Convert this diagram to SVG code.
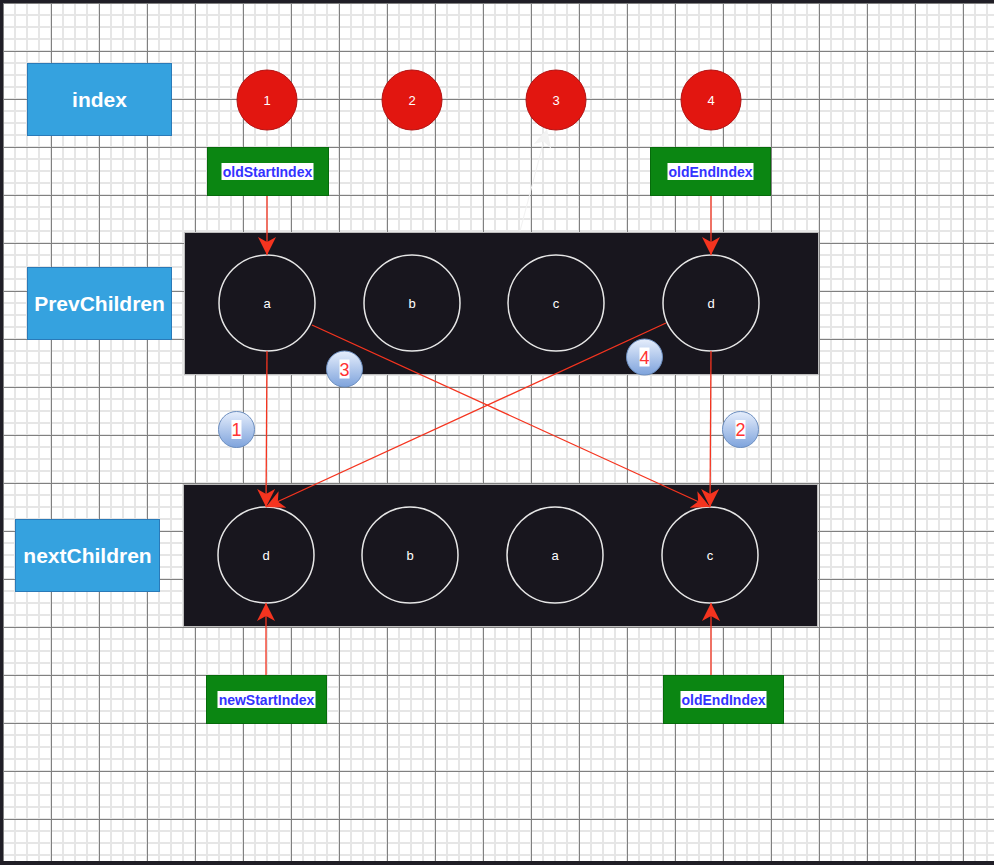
<svg xmlns="http://www.w3.org/2000/svg" width="994" height="865" viewBox="0 0 994 865">
<style>
.lbl{fill:#35a2df;stroke:#2a7ab8;stroke-width:1}
.lbltxt{font-family:"Liberation Sans",Arial,sans-serif;font-weight:bold;font-size:21px;fill:#fff;text-anchor:middle}
.idx{fill:#e21610;stroke:#b31212;stroke-width:1}
.idxtxt{font-family:"Liberation Sans",Arial,sans-serif;font-size:13px;fill:#fff;text-anchor:middle}
.ptr{fill:#0b8612;stroke:#066b0b;stroke-width:1}
.ptrbg{fill:#fff}
.ptrtxt{font-family:"Liberation Sans",Arial,sans-serif;font-weight:bold;font-size:14px;fill:#3333ff;text-anchor:middle}
.panel{fill:#18161e;stroke:#bdbdbd;stroke-width:1}
.node{fill:none;stroke:#e6e6e6;stroke-width:1.5}
.nodetxt{font-family:"Liberation Sans",Arial,sans-serif;font-size:13px;fill:#fff;text-anchor:middle}
.edge{fill:none;stroke:#f5341f;stroke-width:1.3}
.bub{fill:url(#bubg);stroke:#6c8ebf;stroke-width:1}
.bubtxt{font-family:"Liberation Sans",Arial,sans-serif;font-size:18px;fill:#ff3333;text-anchor:middle}
</style>
<defs>
<pattern id="grid" patternUnits="userSpaceOnUse" x="-3" y="-3" width="48" height="48">
<rect width="48" height="48" fill="#fff"/>
<path d="M5,0h2v48h-2z M17,0h2v48h-2z M29,0h2v48h-2z M41,0h2v48h-2z M0,5h48v2h-48z M0,17h48v2h-48z M0,29h48v2h-48z M0,41h48v2h-48z" fill="#e6e6e6"/>
<path d="M6,0h1v48h-1z M0,6h48v1h-48z" fill="#808080"/>
</pattern>
<linearGradient id="bubg" x1="0" y1="0" x2="0" y2="1">
<stop offset="0" stop-color="#e6eefc"/>
<stop offset="1" stop-color="#7ea3dc"/>
</linearGradient>
<marker id="arr" markerUnits="userSpaceOnUse" markerWidth="18" markerHeight="18" refX="18" refY="9" orient="auto">
<path d="M0,0 L18,9 L0,18 L5,9 Z" fill="#f5341f"/>
</marker>
<marker id="arrf" markerUnits="userSpaceOnUse" markerWidth="18" markerHeight="18" refX="18" refY="9" orient="auto">
<path d="M0,0 L18,9 L0,18 L5,9 Z" fill="#f2f2f2"/>
</marker>
</defs>
<rect x="0" y="0" width="994" height="865" fill="url(#grid)"/>
<rect x="0" y="0" width="994" height="3" fill="#201e26"/>
<rect x="0" y="0" width="3" height="865" fill="#201e26"/>
<rect x="0" y="861" width="994" height="4" fill="#201e26"/>

<g id="label-index"><rect class="lbl" x="27.5" y="63.5" width="144" height="72"/><text class="lbltxt" x="99.5" y="107">index</text></g>
<g id="label-prev"><rect class="lbl" x="27.5" y="267.5" width="144" height="72"/><text class="lbltxt" x="99.5" y="311">PrevChildren</text></g>
<g id="label-next"><rect class="lbl" x="15.5" y="519.5" width="144" height="72"/><text class="lbltxt" x="87.5" y="563">nextChildren</text></g>

<g id="idx1"><circle class="idx" cx="267" cy="100" r="30"/><text class="idxtxt" x="267" y="105">1</text></g>
<g id="idx2"><circle class="idx" cx="412" cy="100" r="30"/><text class="idxtxt" x="412" y="105">2</text></g>
<g id="idx3"><circle class="idx" cx="556" cy="100" r="30"/><text class="idxtxt" x="556" y="105">3</text></g>
<g id="idx4"><circle class="idx" cx="711" cy="100" r="30"/><text class="idxtxt" x="711" y="105">4</text></g>

<g id="ptr-oldStart"><rect class="ptr" x="207.5" y="147.5" width="121" height="48"/><rect class="ptrbg" x="221.5" y="163" width="92" height="17"/><text class="ptrtxt" x="267.5" y="176.5">oldStartIndex</text></g>
<g id="ptr-oldEnd"><rect class="ptr" x="650.5" y="147.5" width="120" height="48"/><rect class="ptrbg" x="667.5" y="163" width="86" height="17"/><text class="ptrtxt" x="710.5" y="176.5">oldEndIndex</text></g>
<g id="ptr-newStart"><rect class="ptr" x="206.5" y="675.5" width="120" height="48"/><rect class="ptrbg" x="217.5" y="691" width="98" height="17"/><text class="ptrtxt" x="266.5" y="704.5">newStartIndex</text></g>
<g id="ptr-newEnd"><rect class="ptr" x="663.5" y="675.5" width="120" height="48"/><rect class="ptrbg" x="680.5" y="691" width="86" height="17"/><text class="ptrtxt" x="723.5" y="704.5">oldEndIndex</text></g>

<g id="prev-panel"><rect class="panel" x="184.5" y="232.5" width="634" height="142"/></g>
<g id="prev-a"><circle class="node" cx="267" cy="303" r="48"/><text class="nodetxt" x="267" y="308">a</text></g>
<g id="prev-b"><circle class="node" cx="412" cy="303" r="48"/><text class="nodetxt" x="412" y="308">b</text></g>
<g id="prev-c"><circle class="node" cx="556" cy="303" r="48"/><text class="nodetxt" x="556" y="308">c</text></g>
<g id="prev-d"><circle class="node" cx="711" cy="303" r="48"/><text class="nodetxt" x="711" y="308">d</text></g>

<g id="next-panel"><rect class="panel" x="183.5" y="484.5" width="634" height="142"/></g>
<g id="next-d"><circle class="node" cx="266" cy="555" r="48"/><text class="nodetxt" x="266" y="560">d</text></g>
<g id="next-b"><circle class="node" cx="410" cy="555" r="48"/><text class="nodetxt" x="410" y="560">b</text></g>
<g id="next-a"><circle class="node" cx="555" cy="555" r="48"/><text class="nodetxt" x="555" y="560">a</text></g>
<g id="next-c"><circle class="node" cx="710" cy="555" r="48"/><text class="nodetxt" x="710" y="560">c</text></g>

<g id="connectors">
<line x1="520" y1="231" x2="547" y2="129" stroke="#f2f2f2" stroke-width="1" marker-end="url(#arrf)"/>
<line class="edge" x1="267" y1="196" x2="267" y2="255" marker-end="url(#arr)"/>
<line class="edge" x1="711" y1="196" x2="711" y2="255" marker-end="url(#arr)"/>
<line class="edge" x1="267" y1="351" x2="266" y2="507" marker-end="url(#arr)"/>
<line class="edge" x1="312" y1="325" x2="710" y2="507" marker-end="url(#arr)"/>
<line class="edge" x1="666" y1="323" x2="266" y2="507" marker-end="url(#arr)"/>
<line class="edge" x1="711" y1="351" x2="710" y2="507" marker-end="url(#arr)"/>
<line class="edge" x1="266" y1="675" x2="266" y2="603" marker-end="url(#arr)"/>
<line class="edge" x1="711" y1="675" x2="711" y2="603" marker-end="url(#arr)"/>
</g>

<g id="step1"><circle class="bub" cx="236.5" cy="429.5" r="18"/><rect x="231.5" y="420" width="10" height="19" fill="#fff"/><text class="bubtxt" x="236.5" y="436">1</text></g>
<g id="step2"><circle class="bub" cx="740.5" cy="429.5" r="18"/><rect x="735.5" y="420" width="10" height="19" fill="#fff"/><text class="bubtxt" x="740.5" y="436">2</text></g>
<g id="step3"><circle class="bub" cx="344.5" cy="369" r="18"/><rect x="339.5" y="359.5" width="10" height="19" fill="#fff"/><text class="bubtxt" x="344.5" y="375.5">3</text></g>
<g id="step4"><circle class="bub" cx="644.5" cy="357" r="18"/><rect x="639.5" y="347.5" width="10" height="19" fill="#fff"/><text class="bubtxt" x="644.5" y="363.5">4</text></g>
</svg>
